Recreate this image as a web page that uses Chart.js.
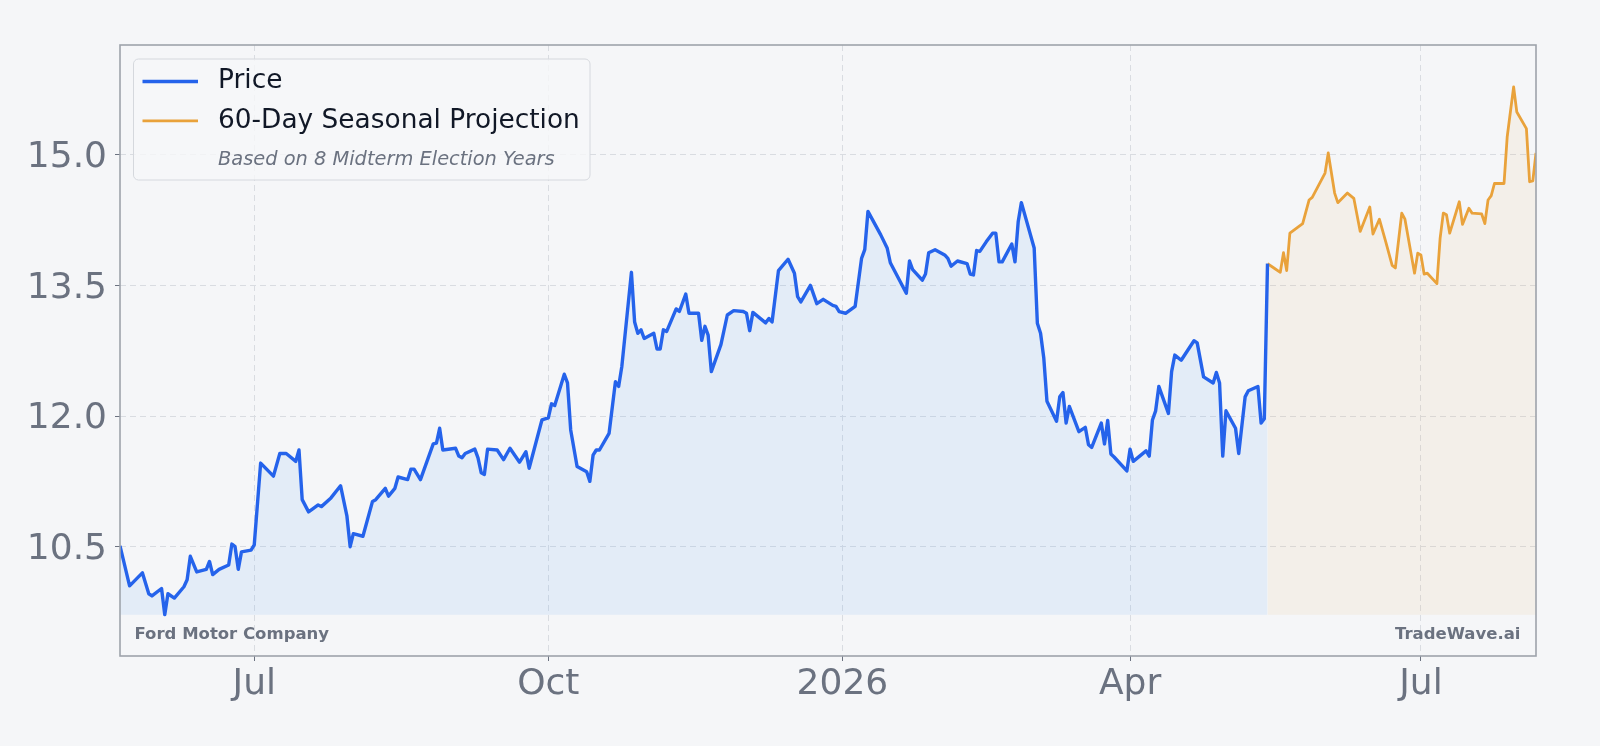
<!DOCTYPE html>
<html><head><meta charset="utf-8">
<script src="https://cdn.jsdelivr.net/npm/chart.js@4.4.1/dist/chart.umd.min.js"></script>
<style>html,body{margin:0;padding:0;background:#f5f6f8;} #wrap{width:1600px;height:746px;}</style>
</head><body><div id="wrap"><canvas id="c" width="1600" height="746"></canvas></div>
<script>
// x values: days since 2025-07-01
const priceDay = [
 -42,-39,-35,-33,-32,-29,-28,-27,-25,-22,
 -21,-20,-18,-15,-14,-13,-11,-8,-7,-6,
 -5,-4,-1,0,2,6,8,10,13,14,
 15,17,20,21,24,27,29,30,31,34,
 37,38,41,42,44,45,48,49,50,52,
 56,57,58,59,63,64,65,66,69,70,
 71,72,73,76,78,80,83,85,86,90,
 92,93,94,97,98,99,101,104,105,106,
 107,108,111,113,114,115,118,119,120,121,
 122,125,126,127,128,129,132,133,135,136,
 139,140,141,142,143,146,148,150,153,154,
 155,156,160,161,162,164,167,169,170,171,
 174,176,178,181,182,183,185,188,190,191,
 192,196,198,199,204,205,206,209,210,211,
 213,216,217,218,220,223,224,225,226,227,
 229,231,232,233,234,237,238,239,240,244,
 245,246,247,248,251,252,253,254,255,258,
 260,261,262,265,266,267,268,269,273,274,
 275,279,280,281,282,283,286,287,288,290,
 294,295,297,300,301,302,303,304,307,308,
 310,311,314,315,316,317
];
const priceVal = [
 10.51,10.05,10.20,9.96,9.935,10.02,9.72,9.96,9.91,10.04,
 10.12,10.39,10.21,10.24,10.33,10.18,10.24,10.29,10.53,10.50,
 10.24,10.44,10.46,10.52,11.46,11.31,11.57,11.57,11.48,11.61,
 11.04,10.90,10.98,10.96,11.06,11.20,10.85,10.50,10.65,10.62,
 11.02,11.04,11.17,11.08,11.17,11.30,11.27,11.39,11.39,11.27,
 11.68,11.69,11.86,11.61,11.63,11.54,11.52,11.57,11.62,11.52,
 11.35,11.33,11.62,11.61,11.50,11.63,11.47,11.59,11.40,11.955,
 11.98,12.14,12.12,12.48,12.38,11.84,11.42,11.36,11.25,11.55,
 11.61,11.61,11.80,12.395,12.34,12.57,13.65,13.08,12.95,12.99,
 12.89,12.95,12.77,12.77,12.99,12.97,13.23,13.20,13.40,13.18,
 13.18,12.87,13.03,12.93,12.51,12.82,13.16,13.21,13.20,13.18,
 12.98,13.19,13.07,13.12,13.08,13.67,13.80,13.64,13.37,13.31,
 13.50,13.29,13.34,13.27,13.26,13.20,13.18,13.26,13.81,13.91,
 14.35,14.08,13.93,13.76,13.41,13.78,13.68,13.56,13.63,13.875,
 13.91,13.85,13.81,13.72,13.78,13.75,13.63,13.62,13.90,13.89,
 14.00,14.10,14.10,13.77,13.77,13.975,13.77,14.23,14.45,13.93,
 13.065,12.95,12.67,12.17,11.94,12.22,12.27,11.92,12.11,11.82,
 11.87,11.67,11.64,11.92,11.68,11.95,11.565,11.53,11.37,11.62,
 11.48,11.60,11.54,11.955,12.06,12.34,12.03,12.51,12.70,12.64,
 12.865,12.84,12.45,12.38,12.50,12.38,11.54,12.06,11.86,11.57,
 12.22,12.29,12.34,11.92,11.97,13.75
];
const projDay = [
 317,319,321,322,323,324,326,328,330,331,
 335,336,338,339,342,344,346,349,350,352,
 354,356,357,359,360,363,364,365,366,367,
 370,371,372,373,374,377,378,380,381,384,
 385,386,387,388,391,392,394,395,398,399,
 400,401
];
const projVal = [
 13.75,13.70,13.65,13.875,13.67,14.10,14.155,14.21,14.48,14.51,
 14.79,15.02,14.56,14.45,14.56,14.50,14.12,14.40,14.09,14.26,
 14.00,13.73,13.70,14.33,14.26,13.64,13.87,13.85,13.63,13.64,
 13.52,14.04,14.33,14.31,14.10,14.46,14.20,14.385,14.33,14.32,
 14.21,14.48,14.53,14.67,14.67,15.21,15.78,15.49,15.30,14.69,
 14.70,15.02
];
const xTickDays = [0, 92, 184, 274, 365];
const xTickLabels = ['Jul', 'Oct', '2026', 'Apr', 'Jul'];
const yTickVals = [10.5, 12.0, 13.5, 15.0];
const seriesNames = ['Price', '60-Day Seasonal Projection'];
const legendNote = 'Based on 8 Midterm Election Years';
const companyName = 'Ford Motor Company';
const brandName = 'TradeWave.ai';

const FONT = "'DejaVu Sans', 'Liberation Sans', sans-serif";
const BLUE = '#2563eb', ORANGE = '#e9a23b', GRAY = '#6b7280';
const base = Math.min(...priceVal);

const overlay = {
  id: 'overlay',
  afterDraw(chart) {
    const { ctx, chartArea: a } = chart;
    ctx.save();
    // frame
    ctx.strokeStyle = '#9ea3ab'; ctx.lineWidth = 1.6;
    ctx.strokeRect(a.left, a.top, a.right - a.left, a.bottom - a.top);
    // watermarks
    ctx.font = `bold 16.5px ${FONT}`; ctx.fillStyle = GRAY; ctx.textBaseline = 'middle';
    ctx.textAlign = 'left'; ctx.fillText(companyName, a.left + 14.5, a.bottom - 21.5);
    ctx.textAlign = 'right'; ctx.fillText(brandName, a.right - 15.5, a.bottom - 21.5);
    // legend
    const lx = a.left + 13.5, ly = a.top + 14, lw = 456.5, lh = 121;
    ctx.beginPath();
    if (ctx.roundRect) ctx.roundRect(lx, ly, lw, lh, 5); else ctx.rect(lx, ly, lw, lh);
    ctx.fillStyle = 'rgba(246,247,249,0.8)'; ctx.fill();
    ctx.strokeStyle = '#d5d8dd'; ctx.lineWidth = 1; ctx.stroke();
    const sx1 = a.left + 22.5, sx2 = a.left + 78, tx = a.left + 98;
    const rows = [a.top + 36.5, a.top + 75.8];
    const cols = [BLUE, ORANGE], widths = [3.4, 2.8];
    ctx.lineCap = 'butt';
    for (let i = 0; i < 2; i++) {
      ctx.beginPath(); ctx.strokeStyle = cols[i]; ctx.lineWidth = widths[i];
      ctx.moveTo(sx1, rows[i]); ctx.lineTo(sx2, rows[i]); ctx.stroke();
      ctx.font = `26.4px ${FONT}`; ctx.fillStyle = '#111827'; ctx.textAlign = 'left'; ctx.textBaseline = 'middle';
      ctx.fillText(seriesNames[i], tx, rows[i]);
    }
    ctx.font = `italic 19.4px ${FONT}`; ctx.fillStyle = GRAY;
    ctx.fillText(legendNote, tx, a.top + 114.5);
    ctx.restore();
  }
};

new Chart(document.getElementById('c'), {
  type: 'line',
  data: {
    datasets: [
      { label: seriesNames[0], data: priceDay.map((d, i) => ({ x: d, y: priceVal[i] })),
        borderColor: BLUE, borderWidth: 3.4, pointRadius: 0, tension: 0, borderJoinStyle: 'round',
        fill: { value: base }, backgroundColor: 'rgba(96,165,250,0.12)' },
      { label: seriesNames[1], data: projDay.map((d, i) => ({ x: d, y: projVal[i] })),
        borderColor: ORANGE, borderWidth: 2.8, pointRadius: 0, tension: 0, borderJoinStyle: 'round',
        fill: { value: base }, backgroundColor: 'rgba(233,162,59,0.08)' }
    ]
  },
  options: {
    responsive: false, animation: false, devicePixelRatio: 1,
    layout: { padding: { top: 45, right: 64, left: 0, bottom: 0 } },
    plugins: { legend: { display: false }, tooltip: { enabled: false } },
    scales: {
      x: {
        type: 'linear', min: -42, max: 401,
        afterFit(s) { s.height = 90; },
        afterBuildTicks(s) { s.ticks = xTickDays.map(v => ({ value: v })); },
        ticks: { callback: v => xTickLabels[xTickDays.indexOf(v)], font: { family: FONT, size: 36 }, color: GRAY, padding: 2, maxRotation: 0, autoSkip: false },
        grid: { color: '#d9dce1', lineWidth: 1, tickLength: 5, tickColor: GRAY, tickWidth: 1 },
        border: { display: false, dash: [6, 4] }
      },
      y: {
        type: 'linear', min: 9.245, max: 16.26,
        afterFit(s) { s.width = 120; },
        afterBuildTicks(s) { s.ticks = yTickVals.map(v => ({ value: v })); },
        ticks: { callback: v => v.toFixed(1), font: { family: FONT, size: 36 }, color: GRAY, padding: 8, labelOffset: 3, autoSkip: false },
        grid: { color: '#d9dce1', lineWidth: 1, tickLength: 5, tickColor: GRAY, tickWidth: 1 },
        border: { display: false, dash: [6, 4] }
      }
    }
  },
  plugins: [overlay]
});
</script></body></html>
